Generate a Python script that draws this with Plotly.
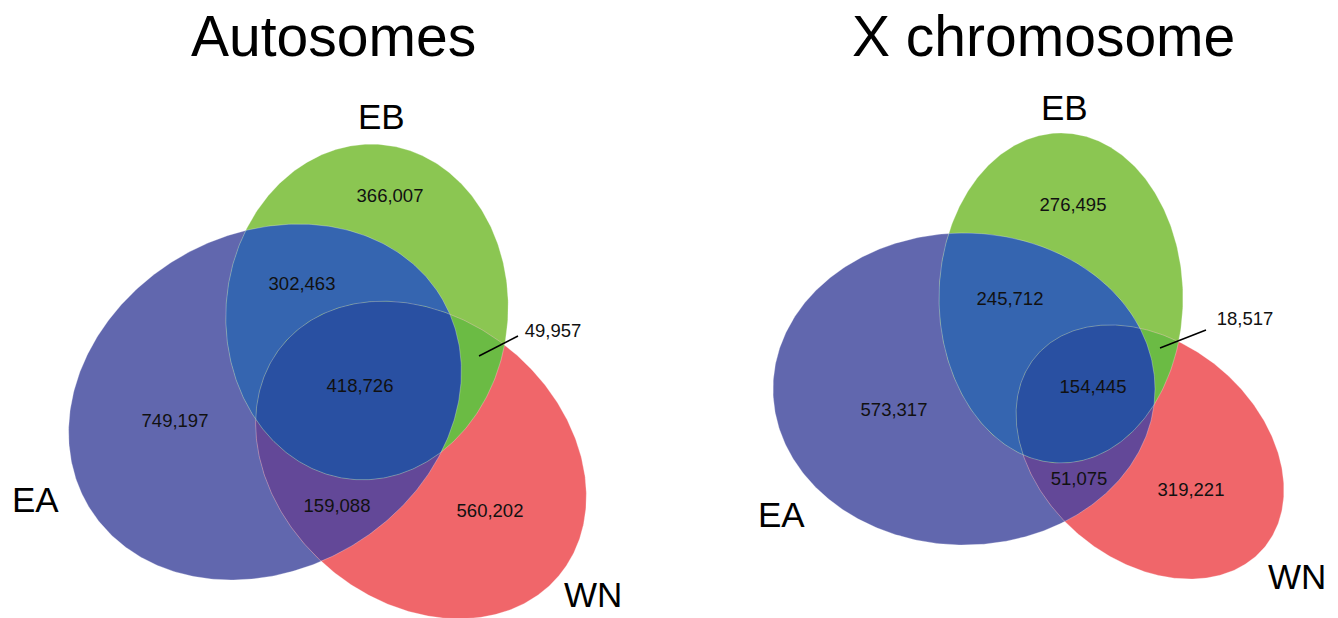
import numpy as np
import plotly.graph_objects as go

# ---------------- data ----------------
regions = ["EA only", "EB only", "WN only", "EA&EB", "EA&WN", "EB&WN", "EA&EB&WN"]
autosome_counts = [749197, 366007, 560202, 302463, 159088, 49957, 418726]
xchrom_counts = [573317, 276495, 319221, 245712, 51075, 18517, 154445]
set_names = ["EA", "EB", "WN"]
panel_titles = ["Autosomes", "X chromosome"]

# ---------------- styles / layout geometry ----------------
W, H = 1338, 618
FONT = "Liberation Sans, Arial, Helvetica, sans-serif"
region_colors = {
    "EA only": "#6167AE", "EB only": "#8BC652", "WN only": "#F0666A",
    "EA&EB": "#3565B0", "EA&WN": "#634898", "EB&WN": "#6BBB44",
    "EA&EB&WN": "#2950A2",
}

# ellipse geometry per panel: (cx, cy, major, minor, angle_deg) in page pixels
panels = [
    {
        "ellipses": {"EA": (265, 402, 205, 168, -30),
                     "EB": (367, 312, 168, 141, -85),
                     "WN": (421, 460, 180, 142, 40)},
        "pos": {"EA only": (175, 422), "EB only": (390, 197), "WN only": (490, 512),
                "EA&EB": (302, 285), "EA&WN": (337, 507), "EB&WN": (553, 332),
                "EA&EB&WN": (360, 387)},
        "leader": ((479, 356), (518, 336)),
        "labels": {"EA": (35, 499), "EB": (381, 116), "WN": (593, 594)},
        "title": (333, 36),
        "counts": autosome_counts,
    },
    {
        "ellipses": {"EA": (964, 389, 191, 156, 0),
                     "EB": (1061, 298, 165, 122, -90),
                     "WN": (1150, 452, 149, 109, 40)},
        "pos": {"EA only": (894, 411), "EB only": (1073, 206), "WN only": (1191, 491),
                "EA&EB": (1010, 300), "EA&WN": (1079, 480), "EB&WN": (1245, 320),
                "EA&EB&WN": (1093, 388)},
        "leader": ((1160, 348), (1206, 330)),
        "labels": {"EA": (781, 514), "EB": (1064, 107), "WN": (1297, 576)},
        "title": (1043, 36),
        "counts": xchrom_counts,
    },
]


def ellipse_poly(cx, cy, a, b, ang, n=480):
    t = np.linspace(0, 2 * np.pi, n, endpoint=False)
    th = np.radians(ang)
    x = cx + a * np.cos(t) * np.cos(th) - b * np.sin(t) * np.sin(th)
    y = cy + a * np.cos(t) * np.sin(th) + b * np.sin(t) * np.cos(th)
    return list(zip(x, y))


def area(poly):
    s = 0.0
    for i in range(len(poly)):
        x1, y1 = poly[i]
        x2, y2 = poly[(i + 1) % len(poly)]
        s += x1 * y2 - x2 * y1
    return s / 2


def clip(subject, clipper):
    sign = 1 if area(clipper) > 0 else -1

    def inside(p, a, b):
        return sign * ((b[0] - a[0]) * (p[1] - a[1]) - (b[1] - a[1]) * (p[0] - a[0])) >= 0

    def inter(p1, p2, a, b):
        x1, y1 = p1; x2, y2 = p2; x3, y3 = a; x4, y4 = b
        den = (x1 - x2) * (y3 - y4) - (y1 - y2) * (x3 - x4)
        if abs(den) < 1e-12:
            return p2
        t = ((x1 - x3) * (y3 - y4) - (y1 - y3) * (x3 - x4)) / den
        return (x1 + t * (x2 - x1), y1 + t * (y2 - y1))

    out = subject
    for i in range(len(clipper)):
        a = clipper[i]; b = clipper[(i + 1) % len(clipper)]
        inp = out
        out = []
        if not inp:
            break
        s = inp[-1]
        for e in inp:
            if inside(e, a, b):
                if not inside(s, a, b):
                    out.append(inter(s, e, a, b))
                out.append(e)
            elif inside(s, a, b):
                out.append(inter(s, e, a, b))
            s = e
    return out


fig = go.Figure()


def add_poly(poly, color):
    xs = [p[0] for p in poly] + [poly[0][0]]
    ys = [p[1] for p in poly] + [poly[0][1]]
    fig.add_trace(go.Scatter(x=xs, y=ys, mode="lines", fill="toself", fillcolor=color,
                             line=dict(width=0, color=color), hoverinfo="skip",
                             showlegend=False))


for p in panels:
    polys = {k: ellipse_poly(*v) for k, v in p["ellipses"].items()}
    add_poly(polys["EA"], region_colors["EA only"])
    add_poly(polys["EB"], region_colors["EB only"])
    add_poly(polys["WN"], region_colors["WN only"])
    ab = clip(polys["EA"], polys["EB"])
    aw = clip(polys["EA"], polys["WN"])
    bw = clip(polys["EB"], polys["WN"])
    abw = clip(ab, polys["WN"])
    add_poly(ab, region_colors["EA&EB"])
    add_poly(aw, region_colors["EA&WN"])
    add_poly(bw, region_colors["EB&WN"])
    add_poly(abw, region_colors["EA&EB&WN"])
    # faint light outlines of the sets
    for k in ["EA", "EB", "WN"]:
        poly = polys[k]
        fig.add_trace(go.Scatter(x=[q[0] for q in poly] + [poly[0][0]],
                                 y=[q[1] for q in poly] + [poly[0][1]],
                                 mode="lines", line=dict(width=0.8, color="rgba(255,255,255,0.35)"),
                                 hoverinfo="skip", showlegend=False))
    # counts
    xs, ys, txt = [], [], []
    for r, c in zip(regions, p["counts"]):
        x, y = p["pos"][r]
        xs.append(x); ys.append(y); txt.append(f"{c:,}")
    fig.add_trace(go.Scatter(x=xs, y=ys, text=txt, mode="text",
                             textfont=dict(family=FONT, size=18.5, color="#111111"),
                             textposition="middle center", hoverinfo="skip", showlegend=False))
    # leader line
    (x0, y0), (x1, y1) = p["leader"]
    fig.add_shape(type="line", x0=x0, y0=y0, x1=x1, y1=y1, xref="x", yref="y",
                  line=dict(color="black", width=1.5))
    # set labels
    for s in set_names:
        x, y = p["labels"][s]
        fig.add_annotation(x=x, y=y, text=s, showarrow=False, xref="x", yref="y",
                           font=dict(family=FONT, size=35, color="black"),
                           xanchor="center", yanchor="middle", borderpad=0)

for p, t in zip(panels, panel_titles):
    tx, ty = p["title"]
    fig.add_annotation(x=tx, y=ty, text=t, showarrow=False, xref="x", yref="y",
                       font=dict(family=FONT, size=57, color="black"),
                       xanchor="center", yanchor="middle")

fig.update_layout(
    width=W, height=H, margin=dict(l=0, r=0, t=0, b=0),
    paper_bgcolor="white", plot_bgcolor="white",
    xaxis=dict(range=[0, W], visible=False, fixedrange=True),
    yaxis=dict(range=[H, 0], visible=False, fixedrange=True),
    showlegend=False,
)

fig.write_html("out.html")
